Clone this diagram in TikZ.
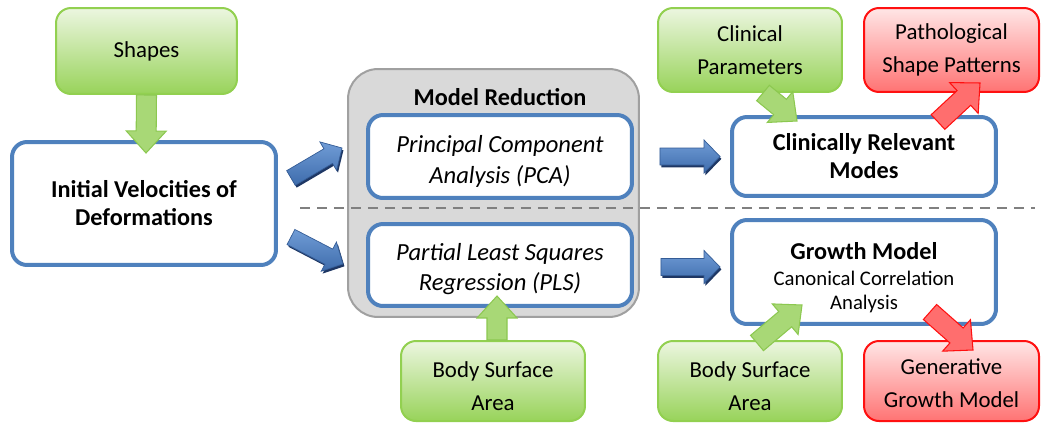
\documentclass[tikz,border=0pt]{standalone}
\usepackage{fontspec}
\setmainfont{Carlito}
\usetikzlibrary{calc}
\definecolor{boxblue}{RGB}{79,129,189}
\definecolor{greenedge}{RGB}{146,208,80}
\definecolor{greentop}{RGB}{236,246,224}
\definecolor{greenbot}{RGB}{152,211,90}
\definecolor{rededge}{RGB}{255,16,16}
\definecolor{redtop}{RGB}{255,230,230}
\definecolor{redbot}{RGB}{255,115,115}
\definecolor{graybg}{RGB}{217,217,217}
\definecolor{grayedge}{RGB}{160,160,160}
\definecolor{dashgray}{RGB}{128,128,128}
\definecolor{arrowtop}{RGB}{112,156,214}
\definecolor{arrowbot}{RGB}{62,108,172}
\definecolor{arrowedge}{RGB}{52,92,150}
\definecolor{arrowshade}{RGB}{30,55,100}
\definecolor{greenfill}{RGB}{168,216,118}
\definecolor{greenline}{RGB}{140,200,80}
\definecolor{redfill}{RGB}{255,110,110}
\newcommand{\bigbold}{\fontsize{13.8}{16}\selectfont\bfseries}
\newcommand{\boxtext}{\fontsize{13}{18.5}\selectfont}
\newcommand{\methodtext}{\fontsize{14}{17.5}\selectfont\itshape}

\begin{document}
\begin{tikzpicture}[x=0.02cm, y=0.02cm]
    \tikzset{fat/.style n args={3}{to path={let \p1=($(\tikztotarget)!#3!(\tikztostart)$) in
        ($(\tikztostart)!#1!90:(\tikztotarget)$) -- ($(\p1)!#1!90:(\tikztotarget)$)
        -- ($(\p1)!#2!90:(\tikztotarget)$) -- (\tikztotarget)
        -- ($(\p1)!#2!-90:(\tikztotarget)$) -- ($(\p1)!#1!-90:(\tikztotarget)$)
        -- ($(\tikztostart)!#1!-90:(\tikztotarget)$) -- cycle}}}
    \tikzset{bluebox/.style={draw=boxblue, line width=0.08cm, rounded corners=0.3cm, fill=white, align=center, inner sep=0pt, minimum width=5.28cm}}
    \tikzset{greenbox/.style={draw=greenedge, line width=0.04cm, rounded corners=0.3cm, top color=greentop, bottom color=greenbot, align=center, font=\boxtext, inner sep=0pt}}
    \tikzset{redbox/.style={draw=rededge, line width=0.04cm, rounded corners=0.3cm, top color=redtop, bottom color=redbot, align=center, font=\boxtext, inner sep=0pt}}
    \tikzset{boxlabel/.style={align=center, inner sep=0pt}}
    \tikzset{greenarrow/.style={fat={0.2cm}{0.4cm}{0.44cm}, draw=greenline, line width=0.6pt, fill=greenfill, line join=miter}}
    \tikzset{redarrow/.style={fat={0.2cm}{0.42cm}{0.44cm}, draw=rededge, line width=0.6pt, fill=redfill, line join=miter}}
    \tikzset{bluearrow/.style={fat={0.17cm}{0.33cm}{0.32cm}, draw=arrowedge, line width=0.4pt, top color=arrowtop, bottom color=arrowbot}}
    \tikzset{blueshadow/.style={fat={0.17cm}{0.33cm}{0.32cm}, fill=arrowshade, draw=none, transform canvas={shift={(0.8pt,-1.3pt)}}}}

    \useasboundingbox (0,0) rectangle (1043,-426);

    \node[draw=grayedge, line width=0.04cm, fill=graybg, rounded corners=0.6cm, minimum width=5.82cm, minimum height=4.96cm] (reduction) at (493.5,-193) {};
    \node[font=\fontsize{13.8}{16}\selectfont\bfseries] (redtitle) at (500,-97) {Model Reduction};
    \draw[dashgray, line width=0.04cm, dash pattern=on 0.2cm off 0.14cm] (300,-208) -- (1035,-208);

    \node[bluebox, minimum height=2.46cm, font=\bigbold] (init) at (144,-203.5) {Initial Velocities of\\Deformations};
    \node[bluebox, minimum height=1.66cm] (pca) at (500,-156.5) {};
    \node[boxlabel, font=\methodtext] (pcatext) at ($(pca)+(0,-5)$) {Principal Component\\Analysis (PCA)};
    \node[bluebox, minimum height=1.64cm] (pls) at (500,-265) {};
    \node[boxlabel, font=\methodtext] (plstext) at ($(pls)+(0,-4)$) {Partial Least Squares\\Regression (PLS)};
    \node[bluebox, minimum height=1.58cm, font=\bigbold] (modes) at (864,-156.5) {Clinically Relevant\\Modes};
    \node[bluebox, minimum height=2.08cm] (growth) at (864,-272) {};
    \node[boxlabel, font=\fontsize{11.8}{13.8}\selectfont] (growthtext) at ($(growth)+(0,-6)$) {{\bigbold Growth Model}\\[1pt]Canonical Correlation\\Analysis};

    \node[greenbox, minimum width=3.62cm, minimum height=1.72cm] (shapes) at (146.5,-51) {Shapes};
    \node[greenbox, minimum width=3.68cm, minimum height=1.68cm] (clinpar) at (750,-50) {Clinical\\Parameters};
    \node[redbox, minimum width=3.50cm, minimum height=1.68cm] (pathpat) at (951.5,-50) {Pathological\\Shape Patterns};
    \node[greenbox, minimum width=3.68cm, minimum height=1.60cm] (bsaleft) at (493,-381) {};
    \node[boxlabel, font=\boxtext] (bsalefttext) at ($(bsaleft)+(0,-5)$) {Body Surface\\Area};
    \node[greenbox, minimum width=3.68cm, minimum height=1.60cm] (bsaright) at (750,-381) {};
    \node[boxlabel, font=\boxtext] (bsarighttext) at ($(bsaright)+(0,-5)$) {Body Surface\\Area};
    \node[redbox, minimum width=3.50cm, minimum height=1.60cm] (genmodel) at (951.5,-381) {};
    \node[boxlabel, font=\boxtext] (genmodeltext) at ($(genmodel)+(0,-2)$) {Generative\\Growth Model};

    \coordinate (upin) at ($(init.east)+(13,25.5)$);
    \coordinate (upout) at ($(pca.west)+(-24,8.5)$);
    \coordinate (downin) at ($(init.east)+(13,-33.5)$);
    \coordinate (downout) at ($(pls.west)+(-23,1)$);
    \coordinate (pcaout) at ($(pca.east)+(26,0)$);
    \coordinate (modesin) at ($(modes.west)+(-10,0)$);
    \coordinate (plsout) at ($(pls.east)+(27,-2)$);
    \coordinate (growthin) at ($(growth.west)+(-10,5)$);
    \coordinate (shapestip) at ($(init.north)+(2,-13)$);
    \coordinate (clinfoot) at ($(clinpar.south)+(13,0)$);
    \coordinate (clintip) at ($(modes.north)+(-67,-6)$);
    \coordinate (pathfoot) at ($(modes.north)+(74,-7)$);
    \coordinate (pathtip) at ($(pathpat.south)+(28.5,10)$);
    \coordinate (bsalfoot) at ($(bsaleft.north)+(4,0)$);
    \coordinate (bsaltip) at ($(pls.south)+(-3,12)$);
    \coordinate (bsarfoot) at ($(bsaright.north)+(7,-3)$);
    \coordinate (bsartip) at ($(growth.south)+(-62,21)$);
    \coordinate (genfoot) at ($(growth.south)+(66,14)$);
    \coordinate (gentip) at ($(genmodel.north)+(21.5,-10)$);

    \foreach \from/\to in {upin/upout, downin/downout, pcaout/modesin, plsout/growthin} {
        \draw[blueshadow] (\from) to (\to);
        \draw[bluearrow] (\from) to (\to);
    }
    \draw[greenarrow] (shapes.south) to (shapestip);
    \draw[greenarrow] (clinfoot) to (clintip);
    \draw[greenarrow] (bsalfoot) to (bsaltip);
    \draw[greenarrow] (bsarfoot) to (bsartip);
    \draw[redarrow] (pathfoot) to (pathtip);
    \draw[redarrow] (genfoot) to (gentip);
\end{tikzpicture}
\end{document}
